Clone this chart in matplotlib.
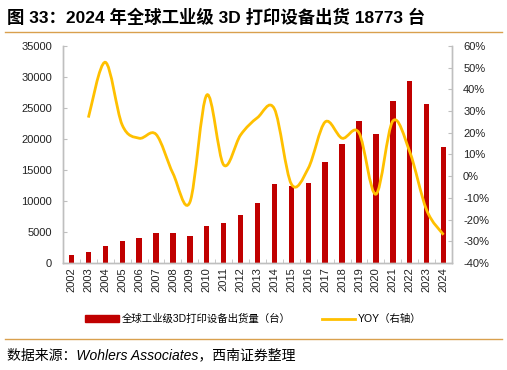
import numpy as np
import matplotlib.pyplot as plt
from matplotlib.path import Path
from matplotlib.patches import PathPatch, Patch
from matplotlib.lines import Line2D

plt.rcParams['font.family'] = ['Liberation Sans', 'Noto Sans CJK SC', 'DejaVu Sans']

years = [str(y) for y in range(2002, 2025)]
shipments = [1300, 1820, 2790, 3500, 3980, 4840, 4800, 4300, 6020, 6400, 7740, 9730,
             12740, 12420, 12950, 16290, 19190, 22900, 20860, 26080, 29300, 25600, 18773]
# YOY from 2003 onwards (%)
yoy = [27, 52.5, 23.6, 17.5, 19.3, 1.3, -12, 37.4, 5.2, 19, 27,
       31, -3.6, 3.6, 25, 17.5, 20, -8.3, 25.4, 11.3, -15.6, -27]

red = '#C00000'
gold = '#FFC000'
grey = '#BFBFBF'

fig = plt.figure(figsize=(5.07, 3.70), dpi=100)
ax = fig.add_axes([0.1243, 0.2892, 0.7672, 0.5865])
ax2 = ax.twinx()

x = np.arange(len(years))
ax.bar(x, shipments, width=0.32, color=red, zorder=2)
ax.set_xlim(-0.5, len(years) - 0.5)
ax.set_ylim(0, 35000)
ax.set_yticks(range(0, 35001, 5000))
ax.set_xticks(x)
ax.set_xticklabels(years, rotation=90, fontsize=8)
ax.set_xticks(np.arange(-0.5, len(years), 1), minor=True)
ax.tick_params(axis='x', which='major', length=0, pad=3)
ax.tick_params(axis='x', which='minor', length=3, direction='in', color=grey)
ax.tick_params(axis='y', length=3, direction='in', color=grey, labelsize=8, pad=8)

# smoothed YOY line (Catmull-Rom through the points, drawn as bezier path)
xs = x[1:].astype(float)
ys = np.array(yoy, dtype=float)
verts = [(xs[0], ys[0])]
codes = [Path.MOVETO]
n = len(xs)
for i in range(n - 1):
    p0 = (xs[max(i - 1, 0)], ys[max(i - 1, 0)])
    p1 = (xs[i], ys[i])
    p2 = (xs[i + 1], ys[i + 1])
    p3 = (xs[min(i + 2, n - 1)], ys[min(i + 2, n - 1)])
    c1 = (p1[0] + (p2[0] - p0[0]) / 6, p1[1] + (p2[1] - p0[1]) / 6)
    c2 = (p2[0] - (p3[0] - p1[0]) / 6, p2[1] - (p3[1] - p1[1]) / 6)
    verts += [c1, c2, p2]
    codes += [Path.CURVE4] * 3
ax2.add_patch(PathPatch(Path(verts, codes), facecolor='none', edgecolor=gold, lw=2, zorder=3))
ax2.set_ylim(-40, 60)
ax2.set_yticks(range(-40, 61, 10))
ax2.set_yticklabels([f'{v}%' for v in range(-40, 61, 10)])
ax2.tick_params(axis='y', length=3, direction='in', color=grey, labelsize=8, pad=8)

for a in (ax, ax2):
    a.spines['top'].set_visible(False)
    for s in ('left', 'right', 'bottom'):
        a.spines[s].set_color(grey)
        a.spines[s].set_linewidth(1)
    a.tick_params(labelcolor='#222222')

handles = [Patch(color=red), Line2D([0], [0], color=gold, lw=2)]
fig.legend(handles, ['全球工业级3D打印设备出货量（台）', 'YOY（右轴）'],
           loc='center', bbox_to_anchor=(0.5, 0.138), ncol=2, frameon=False,
           fontsize=7.5, handlelength=3.2, handleheight=0.6, columnspacing=3, handletextpad=0.3)

fig.text(0.014, 0.953, '图 33：2024 年全球工业级 3D 打印设备出货 18773 台',
         fontsize=12.5, fontweight='bold', va='center', ha='left')
fig.add_artist(Line2D([0.01, 0.99], [0.914, 0.914], color='#D9A04E', lw=1))
fig.add_artist(Line2D([0.01, 0.99], [0.084, 0.084], color='#D9A04E', lw=1))
fig.text(0.014, 0.04, '数据来源：Wohlers Associates，西南证券整理',
         fontsize=10, style='italic', va='center', ha='left')

fig.savefig('out.png', dpi=100)
